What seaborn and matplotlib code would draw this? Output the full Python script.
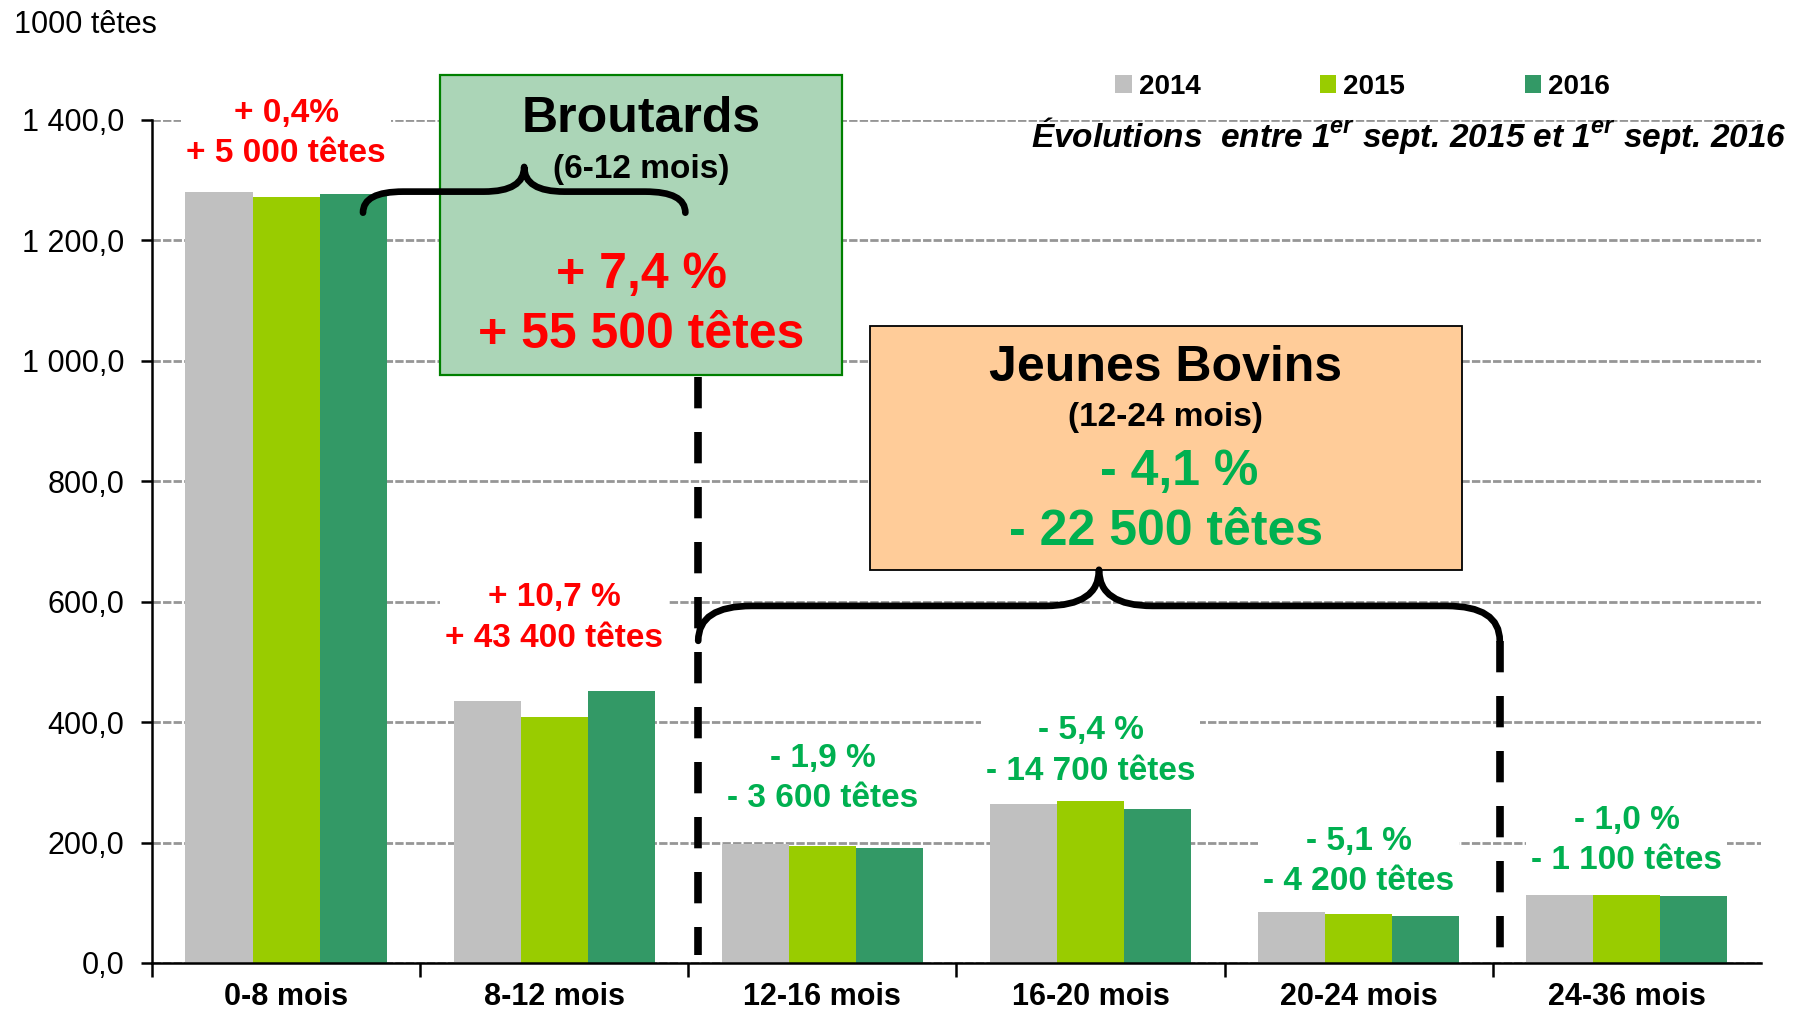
import matplotlib
matplotlib.use("Agg")
import numpy as np
import pandas as pd
import matplotlib.pyplot as plt
import seaborn as sns
from matplotlib.path import Path
from matplotlib.patches import PathPatch, Rectangle
from matplotlib.ticker import FuncFormatter, FixedLocator

# --- données (milliers de têtes au 1er septembre) ---
ages = ['0-8 mois', '8-12 mois', '12-16 mois', '16-20 mois', '20-24 mois', '24-36 mois']
years = ['2014', '2015', '2016']
cheptel_2014 = [1280, 435, 197, 264, 84, 113]
cheptel_2015 = [1272, 408, 194, 269.5, 81.5, 113]
cheptel_2016 = [1277, 452, 190.4, 255, 77.5, 111.9]
evol_pct = ['+ 0,4%', '+ 10,7 %', '- 1,9 %', '- 5,4 %', '- 5,1 %', '- 1,0 %']
evol_tetes = ['+ 5 000 têtes', '+ 43 400 têtes', '- 3 600 têtes',
              '- 14 700 têtes', '- 4 200 têtes', '- 1 100 têtes']

# mise en page des étiquettes (y en milliers de têtes)
label_y = [1377, 573, 307, 352, 169, 203]

RED = '#FF0000'
GREEN = '#00B050'
palette = {'2014': '#C0C0C0', '2015': '#99CC00', '2016': '#339966'}

df = pd.DataFrame({
    'age': ages * 3,
    'annee': [y for y in years for _ in ages],
    'tetes': cheptel_2014 + cheptel_2015 + cheptel_2016,
})

sns.set_style('white')
plt.rcParams['font.family'] = ['Liberation Sans', 'DejaVu Sans']
plt.rcParams['text.color'] = 'black'
plt.rcParams['xtick.color'] = 'black'
plt.rcParams['ytick.color'] = 'black'

fig, ax = plt.subplots(figsize=(17.94, 10.14), dpi=100)
fig.subplots_adjust(left=0.0847, right=0.9816, bottom=0.0503, top=0.8817)

ax.yaxis.grid(True, color='#969696', linestyle=(0, (3.0, 0.8)), linewidth=2.0)
ax.set_axisbelow(True)

sns.barplot(data=df, x='age', y='tetes', hue='annee', order=ages, hue_order=years,
            palette=palette, width=0.75, saturation=1, edgecolor='none',
            linewidth=0, ax=ax, zorder=2)

ax.set_xlim(-0.5, 5.5)
ax.set_ylim(0, 1400)
ax.set_xlabel('')
ax.set_ylabel('')

for side in ['top', 'right']:
    ax.spines[side].set_visible(False)
for side in ['left', 'bottom']:
    ax.spines[side].set_linewidth(1.8)
    ax.spines[side].set_color('black')

ax.set_yticks(np.arange(0, 1401, 200))
ax.yaxis.set_major_formatter(FuncFormatter(
    lambda v, p: f'{v:,.1f}'.replace(',', ' ').replace('.', ',')))
ax.tick_params(axis='y', direction='out', length=8, width=1.8, pad=12,
               labelsize=22, left=True, labelcolor='black')
ax.tick_params(axis='x', which='major', length=0, pad=14, labelsize=22,
               labelcolor='black')
for lab in ax.get_xticklabels():
    lab.set_fontweight('bold')
ax.xaxis.set_minor_locator(FixedLocator([-0.5, 0.5, 1.5, 2.5, 3.5, 4.5]))
ax.tick_params(axis='x', which='minor', direction='out', length=10, width=1.8,
               bottom=True, color='black')

# légende
handles, labels = ax.get_legend_handles_labels()
ax.get_legend().remove()
ax.legend(handles, labels, loc='center left', ncol=3, frameon=False,
          bbox_to_anchor=(1115 / 1794, 1 - 87 / 1014), bbox_transform=fig.transFigure,
          prop={'weight': 'bold', 'size': 20}, handlelength=0.6, handleheight=0.6,
          handletextpad=0.25, columnspacing=4.3, borderpad=0, borderaxespad=0)

# étiquettes d'évolution par classe d'âge
for i, (pct, tet) in enumerate(zip(evol_pct, evol_tetes)):
    col = RED if pct.startswith('+') else GREEN
    ax.text(i, label_y[i], pct + '\n' + tet, ha='center', va='center', color=col,
            fontsize=24, fontweight='bold', linespacing=1.38, zorder=4,
            bbox=dict(boxstyle='square,pad=0.15', fc='white', ec='none'))


def accolade(x0, x1, y_bout, y_barre, y_pointe, d):
    xm = (x0 + x1) / 2
    verts = [(x0, y_bout), (x0, y_barre), (x0 + d, y_barre),
             (xm - d, y_barre),
             (xm, y_barre), (xm, y_pointe),
             (xm, y_barre), (xm + d, y_barre),
             (x1 - d, y_barre),
             (x1, y_barre), (x1, y_bout)]
    codes = [Path.MOVETO, Path.CURVE3, Path.CURVE3, Path.LINETO,
             Path.CURVE3, Path.CURVE3, Path.CURVE3, Path.CURVE3,
             Path.LINETO, Path.CURVE3, Path.CURVE3]
    ax.add_patch(PathPatch(Path(verts, codes), fc='none', ec='black', lw=4.8,
                           capstyle='round', joinstyle='round', clip_on=False, zorder=6))


# encadré Broutards
ax.add_patch(Rectangle((0.575, 977), 2.075 - 0.575, 1475 - 977, fc='#ABD5B7',
                       ec='#008000', lw=1.6, clip_on=False, zorder=3))
bx = 1.325
ax.text(bx, 1402, 'Broutards', ha='center', va='center', fontsize=36,
        fontweight='bold', zorder=5, clip_on=False)
ax.text(bx, 1318, '(6-12 mois)', ha='center', va='center', fontsize=24,
        fontweight='bold', zorder=5)
ax.text(bx, 1142, '+ 7,4 %', ha='center', va='center', fontsize=36,
        fontweight='bold', color=RED, zorder=5)
ax.text(bx, 1043, '+ 55 500 têtes', ha='center', va='center', fontsize=36,
        fontweight='bold', color=RED, zorder=5)
accolade(0.287, 1.489, 1246, 1281, 1322, 0.15)

# encadré Jeunes Bovins
ax.add_patch(Rectangle((2.177, 653), 4.384 - 2.177, 1058 - 653, fc='#FFCC99',
                       ec='black', lw=1.3, zorder=3))
jx = 3.28
ax.text(jx, 988, 'Jeunes Bovins', ha='center', va='center', fontsize=36,
        fontweight='bold', zorder=5)
ax.text(jx, 906, '(12-24 mois)', ha='center', va='center', fontsize=24,
        fontweight='bold', zorder=5)
ax.text(jx + 0.05, 816, '- 4,1 %', ha='center', va='center', fontsize=36,
        fontweight='bold', color=GREEN, zorder=5)
ax.text(jx, 716, '- 22 500 têtes', ha='center', va='center', fontsize=36,
        fontweight='bold', color=GREEN, zorder=5)
accolade(1.537, 4.526, 535, 593, 653, 0.2)

# séparations en tirets
ax.plot([1.537, 1.537], [973, 13], color='black', lw=5.5, linestyle=(0, (4.1, 3.1)),
        solid_capstyle='butt', zorder=5)
ax.plot([4.526, 4.526], [535, 13], color='black', lw=5.5, linestyle=(0, (4.1, 3.1)),
        solid_capstyle='butt', zorder=5)

fig.text(14 / 1794, 1 - 25 / 1014, '1000 têtes', ha='left', va='center', fontsize=22)
fig.text(1787 / 1794, 1 - 136 / 1014,
         r'Évolutions  entre 1$^{\mathregular{er}}$ sept. 2015 et 1$^{\mathregular{er}}$ sept. 2016',
         ha='right', va='center', fontsize=24, fontweight='bold', fontstyle='italic')

fig.savefig('out.png', dpi=100)
